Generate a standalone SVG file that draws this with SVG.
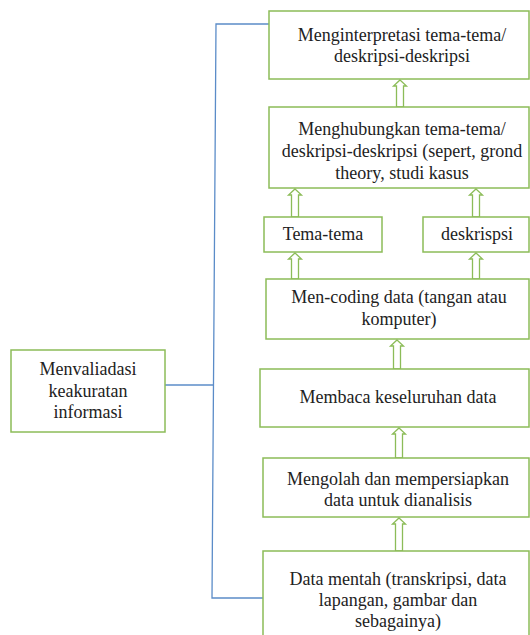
<svg xmlns="http://www.w3.org/2000/svg" width="530" height="635" viewBox="0 0 530 635">
<style>
.box{fill:#fff;stroke:#8cbc58;stroke-width:1.5}
.t{font-size:18px;fill:#222;text-anchor:middle}
.arr{fill:#fff;stroke:#8cbc58;stroke-width:1.3;stroke-linejoin:miter}
.con{fill:none;stroke:#5b8cc8;stroke-width:1.3}
</style>
<rect width="530" height="635" fill="#fff"/>
<g id="connectors">
<polyline class="con" points="269,24 216,24 212,598 263,598"/>
<line class="con" x1="165" y1="385" x2="214" y2="385"/>
<path class="arr" d="M400,80 L406.5,86 L403.5,86 L403.5,107 L396.5,107 L396.5,86 L393.5,86 Z"/>
<path class="arr" d="M295,189 L301.5,195 L298.5,195 L298.5,217 L291.5,217 L291.5,195 L288.5,195 Z"/>
<path class="arr" d="M476,189 L482.5,195 L479.5,195 L479.5,217 L472.5,217 L472.5,195 L469.5,195 Z"/>
<path class="arr" d="M295,253 L301.5,259 L298.5,259 L298.5,279 L291.5,279 L291.5,259 L288.5,259 Z"/>
<path class="arr" d="M476,253 L482.5,259 L479.5,259 L479.5,279 L472.5,279 L472.5,259 L469.5,259 Z"/>
<path class="arr" d="M397,340 L403.5,346 L400.5,346 L400.5,369 L393.5,369 L393.5,346 L390.5,346 Z"/>
<path class="arr" d="M399,428 L405.5,434 L402.5,434 L402.5,458 L395.5,458 L395.5,434 L392.5,434 Z"/>
<path class="arr" d="M399,518 L405.5,524 L402.5,524 L402.5,551 L395.5,551 L395.5,524 L392.5,524 Z"/>
</g>
<g font-family="'Liberation Serif', 'DejaVu Serif', serif">
<g id="n-interpretasi">
<rect class="box" x="269" y="11" width="260" height="68"/>
<text class="t" x="402" y="41">Menginterpretasi tema-tema/</text>
<text class="t" x="402" y="62">deskripsi-deskripsi</text>
</g>
<g id="n-menghubungkan">
<rect class="box" x="269" y="107" width="260" height="81"/>
<text class="t" x="402" y="135">Menghubungkan tema-tema/</text>
<text class="t" x="402" y="157">deskripsi-deskripsi (sepert, grond</text>
<text class="t" x="402" y="179">theory, studi kasus</text>
</g>
<g id="n-tema">
<rect class="box" x="264" y="217" width="118" height="35"/>
<text class="t" x="323" y="240">Tema-tema</text>
</g>
<g id="n-deskrispsi">
<rect class="box" x="423" y="217" width="106" height="35"/>
<text class="t" x="477" y="240">deskrispsi</text>
</g>
<g id="n-coding">
<rect class="box" x="266" y="279" width="263" height="60"/>
<text class="t" x="399" y="303">Men-coding data (tangan atau</text>
<text class="t" x="399" y="325">komputer)</text>
</g>
<g id="n-membaca">
<rect class="box" x="260" y="369" width="269" height="58"/>
<text class="t" x="398" y="403">Membaca keseluruhan data</text>
</g>
<g id="n-mengolah">
<rect class="box" x="263" y="458" width="266" height="59"/>
<text class="t" x="398" y="485">Mengolah dan mempersiapkan</text>
<text class="t" x="398" y="506">data untuk dianalisis</text>
</g>
<g id="n-data">
<rect class="box" x="263" y="551" width="266" height="90"/>
<text class="t" x="398" y="585">Data mentah (transkripsi, data</text>
<text class="t" x="398" y="606">lapangan, gambar dan</text>
<text class="t" x="398" y="627">sebagainya)</text>
</g>
<g id="n-validasi">
<rect class="box" x="11" y="350" width="154" height="82"/>
<text class="t" x="88" y="375">Menvaliadasi</text>
<text class="t" x="88" y="397">keakuratan</text>
<text class="t" x="88" y="418">informasi</text>
</g>
</g>
</svg>
